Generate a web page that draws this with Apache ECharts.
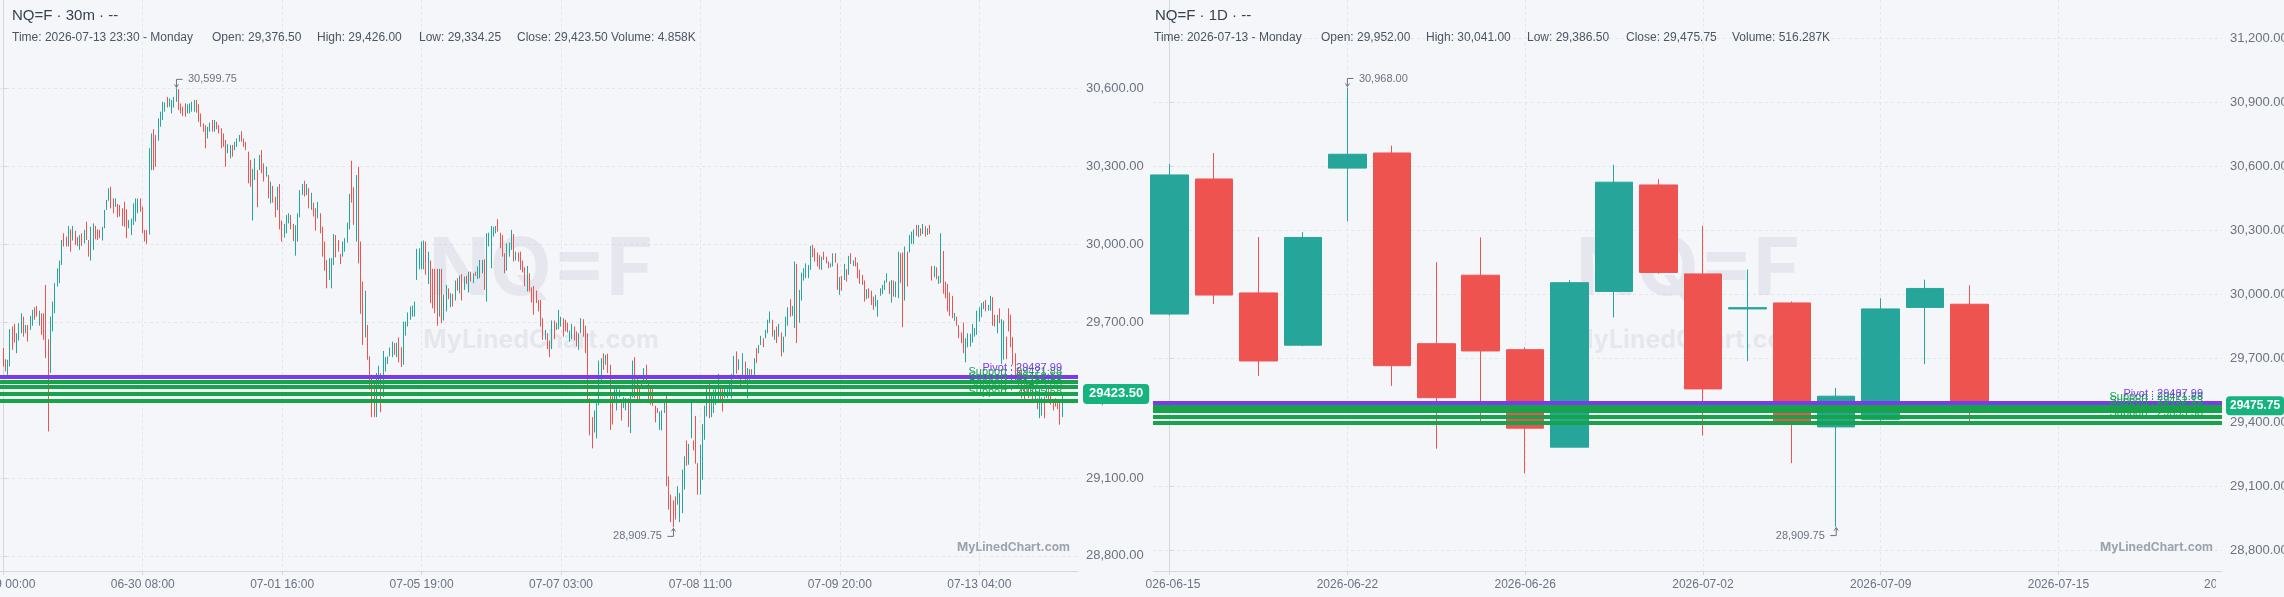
<!DOCTYPE html>
<html>
<head>
<meta charset="utf-8">
<title>NQ=F</title>
<script src="https://cdn.jsdelivr.net/npm/echarts@6.0.0/dist/echarts.min.js"></script>
<style>
  html, body { margin: 0; padding: 0; background: #f5f6fa; }
  #chart { width: 2284px; height: 597px; }
</style>
</head>
<body>
<div id="chart"></div>
<script>
// 30m bars as [open, close, low, high], one array per x-axis label (62 bars each)
const s0629 = [
  [29600,29529,29529,29600],[29557,29510,29510,29557],[29497,29555,29497,29555],[29529,29673,29529,29673],
  [29683,29593,29593,29683],[29693,29621,29621,29693],[29580,29657,29580,29657],[29629,29696,29629,29696],
  [29657,29734,29657,29734],[29721,29644,29644,29721],[29657,29689,29657,29689],[29689,29625,29625,29689],
  [29670,29724,29670,29724],[29686,29747,29686,29747],[29757,29709,29709,29757],[29762,29721,29721,29762],
  [29686,29744,29686,29744],[29734,29651,29651,29734],[29734,29632,29632,29734],[29843,29561,29561,29843],
  [29634,29504,29279,29634],[29504,29721,29504,29721],[29664,29779,29664,29779],[29734,29850,29734,29850],
  [29837,29907,29837,29907],[29850,29937,29850,29937],[29920,30016,29920,30016],[30042,29991,29991,30042],
  [30029,29991,29991,30029],[29991,30070,29991,30070],[30057,29971,29971,30057],[30014,30070,30014,30070],
  [30052,29997,29997,30052],[30027,29993,29993,30027],[29978,30035,29978,30035],[30042,29993,29993,30042],
  [30003,30055,30003,30055],[30087,30016,30016,30087],[30016,29952,29952,30016],[29937,30067,29937,30067],
  [29978,30080,29978,30080],[30070,30019,30019,30070],[30057,30016,30016,30057],[30055,30023,30023,30055],
  [30014,30067,30014,30067],[30061,30132,30061,30132],[30132,30170,30132,30170],[30167,30215,30167,30215],
  [30221,30138,30138,30221],[30176,30119,30119,30176],[30144,30176,30144,30176],[30155,30103,30103,30155],
  [30151,30106,30106,30151],[30138,30070,30070,30138],[30163,30067,30067,30163],[30134,30023,30023,30134],
  [30061,30093,30061,30093],[30035,30099,30035,30099],[30074,30157,30074,30157],[30087,30176,30087,30176],
  [30119,30176,30119,30176],[30176,30125,30125,30176]
];
const s0630 = [
  [30144,30042,30042,30144],[30055,30010,30010,30055],[30055,30001,30001,30055],[30037,30369,30037,30369],
  [30285,30426,30285,30426],[30442,30285,30285,30442],[30420,30298,30298,30420],[30398,30484,30398,30484],
  [30452,30510,30452,30510],[30478,30548,30478,30548],[30510,30546,30510,30546],[30567,30526,30526,30567],
  [30529,30561,30529,30561],[30503,30555,30503,30555],[30526,30567,30526,30567],[30548,30590,30548,30599.75],
  [30597,30516,30516,30597],[30542,30503,30503,30542],[30529,30493,30493,30529],[30542,30491,30491,30542],
  [30503,30538,30503,30538],[30503,30542,30503,30542],[30510,30548,30510,30548],[30510,30555,30510,30555],
  [30555,30506,30506,30555],[30539,30471,30471,30539],[30503,30452,30452,30503],[30465,30433,30433,30465],
  [30458,30369,30369,30458],[30407,30452,30407,30452],[30433,30468,30433,30468],[30478,30433,30433,30478],
  [30433,30478,30433,30478],[30471,30442,30442,30471],[30458,30426,30426,30458],[30446,30369,30369,30446],
  [30426,30375,30375,30426],[30401,30298,30298,30401],[30350,30385,30350,30385],[30330,30382,30330,30382],
  [30382,30337,30337,30382],[30362,30394,30362,30394],[30375,30407,30375,30407],[30394,30420,30394,30420],
  [30435,30394,30394,30435],[30407,30375,30375,30407],[30394,30362,30362,30394],[30356,30234,30234,30356],
  [30324,30221,30221,30324],[30210,30285,30091,30290],[30247,30330,30247,30330],[30285,30142,30142,30285],
  [30285,30343,30285,30343],[30362,30273,30273,30362],[30311,30241,30241,30311],[30260,30298,30260,30298],
  [30266,30176,30176,30266],[30157,30241,30157,30241],[30224,30160,30160,30224],[30183,30103,30103,30183],
  [30132,30221,30132,30221],[30232,30057,30057,30232]
];
const s0701 = [
  [30091,30010,30010,30091],[30025,30078,30025,30078],[30042,30112,30042,30112],[30080,30119,30080,30119],
  [30112,30057,30057,30112],[30078,30012,30012,30078],[29956,30073,29956,30073],[30010,30119,30010,30119],
  [30103,30208,30103,30208],[30189,30232,30189,30232],[30244,30183,30183,30244],[30189,30232,30189,30232],
  [30215,30138,30138,30215],[30132,30198,30132,30198],[30160,30106,30106,30160],[30138,30052,30052,30138],
  [30099,30163,30099,30163],[30119,30042,30042,30119],[30067,29952,29952,30067],[30010,29898,29898,30010],
  [29939,29830,29830,29939],[29862,29946,29862,29946],[29830,29946,29830,29946],[29920,30039,29920,30039],
  [30035,29949,29949,30035],[30016,29971,29971,30016],[29962,29923,29923,29962],[29952,30010,29952,30010],
  [29971,30023,29971,30023],[30006,30083,30006,30083],[30057,30193,30057,30193],[30321,30160,30160,30321],
  [30219,30074,30074,30219],[30010,30266,30010,30266],[30298,29926,29926,30298],[30010,29732,29732,30010],
  [29856,29612,29612,29856],[29641,29821,29641,29821],[29689,29555,29555,29689],[29568,29440,29440,29568],
  [29497,29334,29334,29497],[29465,29334,29334,29465],[29334,29504,29334,29504],[29446,29532,29446,29532],
  [29504,29353,29353,29504],[29411,29589,29411,29589],[29510,29565,29510,29565],[29539,29568,29539,29568],
  [29568,29602,29568,29602],[29565,29625,29565,29625],[29619,29574,29574,29619],[29565,29621,29565,29621],
  [29641,29545,29545,29641],[29603,29527,29527,29603],[29536,29702,29536,29702],[29648,29702,29648,29702],
  [29683,29737,29683,29737],[29709,29760,29709,29760],[29721,29764,29721,29764],[29721,29779,29721,29779],
  [29862,29982,29862,29982],[29903,29984,29903,29984]
];
const s0705 = [
  [29903,30010,29903,30010],[29903,30014,29903,30014],[30010,29882,29882,30010],[29847,29971,29847,29971],
  [29937,29773,29773,29937],[29905,29753,29753,29905],[29905,29734,29734,29905],[29905,29686,29686,29905],
  [29721,29905,29721,29905],[29905,29696,29696,29905],[29706,29805,29706,29805],[29741,29843,29741,29843],
  [29830,29788,29788,29830],[29757,29811,29757,29811],[29809,29760,29760,29809],[29783,29860,29783,29860],
  [29869,29821,29821,29869],[29811,29879,29811,29879],[29885,29783,29783,29885],[29824,29875,29824,29875],
  [29878,29847,29847,29878],[29814,29894,29814,29894],[29894,29856,29856,29894],[29850,29888,29850,29888],
  [29894,29878,29878,29894],[29866,29914,29866,29914],[29869,29939,29869,29939],[29888,29939,29888,29939],
  [29942,29824,29824,29942],[29779,30042,29779,30042],[29991,30044,29991,30044],[29907,30070,29907,30070],
  [30029,30067,30029,30067],[30042,30070,30042,30070],[30096,30048,30048,30096],[30044,29984,29984,30044],
  [30035,29952,29952,30035],[29965,29888,29888,29965],[29898,30003,29898,30003],[29952,30006,29952,30006],
  [29978,30055,29978,30055],[30039,29933,29933,30039],[29937,29971,29937,29971],[29968,29933,29933,29968],
  [29971,29901,29901,29971],[29937,29891,29891,29937],[29911,29839,29839,29911],[29818,29916,29818,29916],
  [29888,29818,29818,29888],[29834,29775,29775,29834],[29839,29728,29728,29839],[29821,29773,29773,29821],
  [29785,29741,29741,29785],[29785,29683,29683,29785],[29715,29632,29632,29715],[29632,29670,29632,29670],
  [29657,29596,29596,29657],[29629,29565,29565,29629],[29596,29706,29596,29706],[29706,29634,29634,29706],
  [29670,29698,29670,29698],[29673,29747,29673,29747]
];
const s0707 = [
  [29683,29721,29683,29721],[29715,29644,29644,29715],[29709,29664,29664,29709],[29698,29660,29660,29698],
  [29625,29667,29625,29667],[29634,29693,29634,29693],[29683,29629,29629,29683],[29664,29606,29606,29664],
  [29593,29657,29593,29657],[29657,29715,29657,29715],[29711,29644,29644,29711],[29686,29580,29580,29686],
  [29657,29395,29395,29657],[29407,29264,29264,29407],[29334,29214,29214,29334],[29275,29360,29275,29360],
  [29252,29388,29252,29388],[29379,29552,29379,29552],[29471,29561,29471,29561],[29580,29516,29516,29580],
  [29536,29574,29536,29574],[29578,29504,29504,29578],[29536,29285,29285,29536],[29414,29306,29306,29414],
  [29388,29442,29388,29442],[29360,29446,29360,29446],[29420,29430,29410,29440],[29404,29321,29321,29404],
  [29369,29411,29369,29411],[29360,29407,29360,29407],[29407,29296,29296,29407],[29273,29416,29273,29416],
  [29410,29552,29410,29552],[29565,29407,29407,29565],[29480,29401,29401,29480],[29452,29404,29404,29452],
  [29478,29446,29446,29478],[29465,29523,29465,29523],[29536,29465,29465,29536],[29465,29401,29401,29465],
  [29450,29382,29382,29450],[29442,29378,29378,29442],[29378,29314,29314,29378],[29369,29350,29350,29369],
  [29285,29356,29285,29356],[29283,29360,29283,29360],[29350,29395,29350,29395],[29416,29068,29068,29416],
  [29106,28978,28978,29106],[29036,28960,28930,29036],[29014,28950,28909.75,29014],[29029,28955,28940,29029],
  [28997,29068,28997,29068],[28960,29042,28930,29042],[28965,29132,28965,29132],[29055,29183,29055,29183],
  [29244,29147,29147,29244],[29151,29231,29151,29231],[29253,29398,29253,29398],[29244,29206,29206,29244],
  [29339,29155,29155,29339],[29157,29036,29036,29157]
];
const s0708 = [
  [29036,29228,29036,29228],[29093,29308,29093,29308],[29247,29378,29247,29378],[29337,29446,29337,29446],
  [29465,29330,29330,29465],[29334,29420,29334,29420],[29350,29440,29350,29440],[29382,29446,29382,29446],
  [29388,29501,29388,29501],[29459,29395,29395,29459],[29442,29356,29356,29442],[29407,29446,29407,29446],
  [29407,29442,29407,29442],[29420,29465,29420,29465],[29407,29501,29407,29501],[29491,29570,29491,29570],
  [29587,29501,29501,29587],[29516,29557,29516,29557],[29497,29446,29446,29497],[29491,29580,29491,29580],
  [29548,29465,29465,29548],[29407,29523,29407,29523],[29478,29519,29478,29519],[29519,29497,29497,29519],
  [29488,29561,29488,29561],[29600,29542,29542,29600],[29580,29612,29580,29612],[29612,29647,29612,29647],
  [29638,29603,29603,29638],[29638,29670,29638,29670],[29657,29709,29657,29709],[29696,29741,29696,29741],
  [29709,29644,29644,29709],[29632,29670,29632,29670],[29683,29619,29619,29683],[29644,29693,29644,29693],
  [29660,29568,29568,29660],[29583,29644,29583,29644],[29644,29721,29644,29721],[29686,29757,29686,29757],
  [29788,29721,29721,29788],[29724,29762,29724,29762],[29677,29933,29677,29933],[29924,29619,29619,29924],
  [29698,29824,29698,29824],[29783,29890,29783,29890],[29860,29907,29860,29907],[29869,29926,29869,29926],
  [29869,29920,29869,29920],[29901,29993,29901,29993],[29997,29950,29950,29997],[29984,29933,29933,29984],
  [29968,29914,29914,29968],[29958,29903,29903,29958],[29901,29952,29901,29952],[29971,29939,29939,29971],
  [29952,29926,29926,29952],[29933,29907,29907,29933],[29911,29926,29911,29926],[29914,29965,29914,29965],
  [29965,29929,29929,29965],[29926,29824,29824,29926]
];
const s0709 = [
  [29805,29873,29805,29873],[29878,29821,29821,29878],[29862,29924,29862,29924],[29904,29856,29856,29904],
  [29882,29955,29882,29955],[29965,29924,29924,29965],[29916,29937,29916,29937],[29950,29914,29914,29950],
  [29929,29869,29869,29929],[29901,29847,29847,29901],[29882,29843,29843,29882],[29860,29779,29779,29860],
  [29788,29827,29788,29827],[29830,29792,29792,29830],[29821,29766,29766,29821],[29798,29747,29747,29798],
  [29760,29805,29760,29805],[29721,29785,29721,29785],[29801,29830,29801,29830],[29808,29843,29808,29843],
  [29824,29860,29824,29860],[29852,29888,29852,29888],[29856,29808,29808,29856],[29775,29862,29775,29862],
  [29860,29798,29798,29860],[29796,29856,29796,29856],[29792,29971,29792,29971],[29965,29850,29850,29965],
  [29968,29680,29680,29968],[29783,29991,29783,29991],[29971,29837,29837,29971],[29968,30035,29968,30035],
  [30001,30048,30001,30048],[30001,30057,30001,30057],[30074,30032,30032,30074],[30027,30074,30027,30074],
  [30061,30032,30032,30061],[30039,30078,30039,30078],[30070,30029,30029,30070],[30035,30061,30035,30061],
  [30074,30039,30039,30074],[29916,29860,29860,29916],[29873,29916,29873,29916],[29911,29865,29865,29911],
  [29847,29878,29847,29878],[29850,30042,29850,30042],[29974,29809,29809,29974],[29856,29792,29792,29856],
  [29847,29741,29741,29847],[29814,29724,29724,29814],[29801,29715,29715,29801],[29712,29730,29705,29735],
  [29721,29686,29686,29721],[29689,29638,29638,29689],[29660,29619,29619,29660],[29698,29580,29580,29698],
  [29545,29638,29545,29638],[29603,29657,29603,29657],[29606,29655,29606,29655],[29621,29693,29621,29693],
  [29644,29677,29644,29677],[29651,29744,29651,29744]
];
const s0713 = [
  [29702,29757,29702,29757],[29719,29773,29719,29773],[29750,29779,29750,29779],[29785,29741,29741,29785],
  [29744,29766,29744,29766],[29744,29801,29744,29801],[29796,29686,29686,29796],[29728,29683,29683,29728],
  [29657,29728,29657,29728],[29753,29696,29696,29753],[29539,29711,29539,29711],[29555,29706,29555,29706],
  [29644,29557,29557,29644],[29753,29664,29664,29753],[29728,29603,29603,29728],[29642,29536,29536,29642],
  [29580,29471,29471,29580],[29523,29484,29484,29523],[29510,29478,29478,29510],[29516,29407,29407,29516],
  [29465,29404,29404,29465],[29440,29471,29440,29471],[29452,29407,29407,29452],[29414,29465,29414,29465],
  [29440,29388,29388,29440],[29401,29452,29401,29452],[29407,29365,29365,29407],[29330,29420,29330,29420],
  [29350,29400,29340,29410],[29414,29330,29330,29414],[29407,29446,29407,29446],[29452,29401,29401,29452],
  [29433,29382,29382,29433],[29390,29370,29360,29400],[29407,29375,29375,29407],[29401,29365,29365,29401],
  [29388,29305,29305,29388],[29376.5,29423.5,29334.25,29426]
];
const intradayTicks = ['06-29 00:00', '06-30 08:00', '07-01 16:00', '07-05 19:00',
  '07-07 03:00', '07-08 11:00', '07-09 20:00', '07-13 04:00'];
const barsPerTick = 62;

// daily bars [open, close, low, high]
const dailyDates = ['2026-06-15', '2026-06-16', '2026-06-17', '2026-06-18', '2026-06-22', '2026-06-23',
  '2026-06-24', '2026-06-25', '2026-06-26', '2026-06-29', '2026-06-30', '2026-07-01', '2026-07-02',
  '2026-07-06', '2026-07-07', '2026-07-08', '2026-07-09', '2026-07-10', '2026-07-13',
  '2026-07-14', '2026-07-15', '2026-07-16', '2026-07-17', '2026-07-20', '2026-07-21'];
const dailyBars = [
  [29906, 30558, 29900, 30609], [30539, 29995, 29953, 30661], [30005, 29686, 29616, 30267],
  [29760, 30265, 29755, 30290], [30590, 30655, 30340, 30968], [30661, 29664, 29569, 30695],
  [29767, 29514, 29275, 30149], [30088, 29733, 29398, 30265], [29739, 29371, 29159, 29750],
  [29282, 30053, 29282, 30065], [30012, 30524, 29890, 30606], [30511, 30101, 30095, 30538],
  [30094, 29555, 29336, 30320], [29930, 29936, 29685, 30115], [29958, 29398, 29207, 29965],
  [29377, 29521, 28909.75, 29560], [29412, 29930, 29400, 29980], [29937, 30026, 29671, 30067],
  [29952, 29475.75, 29386.5, 30041]
];
const dailyTickEvery = 4;

const pivot = 29487.99;
const supports = [29471.88, 29452.13, 29425.00, 29395.58];
const intradayPriceTicks = [28800, 29100, 29400, 29700, 30000, 30300, 30600];
const dailyPriceTicks = [28800, 29100, 29400, 29700, 30000, 30300, 30600, 30900, 31200];

const intradayHeader = [['Time: 2026-07-13 23:30 - Monday', 12], ['Open: 29,376.50', 212], ['High: 29,426.00', 317],
  ['Low: 29,334.25', 419], ['Close: 29,423.50', 517], ['Volume: 4.858K', 611]];
const dailyHeader = [['Time: 2026-07-13 - Monday', 1154], ['Open: 29,952.00', 1321], ['High: 30,041.00', 1426],
  ['Low: 29,386.50', 1527], ['Close: 29,475.75', 1626], ['Volume: 516.287K', 1732]];

const UP = '#26a69a';
const DOWN = '#ef5350';
const PIVOT_COLOR = '#7c3aed';
const SUPPORT_COLOR = '#16a34a';
const PRICE_BOX = '#17b37f';
const GRID_LINE = '#e3e6ec';
const AXIS_LINE = '#d3d7de';
const TEXT = '#6b7280';
const BG = '#f5f6fa';
const FONT = "'Liberation Sans', Arial, sans-serif";

const intradayBars = [].concat(s0629, s0630, s0701, s0705, s0707, s0708, s0709, s0713);

const fmt = v => v.toLocaleString('en-US', { minimumFractionDigits: 2, maximumFractionDigits: 2 });

function extremes(bars) {
  let hi = 0, lo = 0;
  bars.forEach((b, i) => {
    if (b[3] > bars[hi][3]) hi = i;
    if (b[2] < bars[lo][2]) lo = i;
  });
  return { hi, lo };
}

// pivot / support lines plus the last-price tag on the axis
function levelLines(lastClose, gap, tag) {
  const lines = supports.map(v => ({
    yAxis: v,
    lineStyle: { color: SUPPORT_COLOR, width: 4, type: 'solid', opacity: 1 },
    label: { show: true, position: 'insideEndTop', distance: [gap, 4], formatter: 'Support : ' + v.toFixed(2),
      color: SUPPORT_COLOR, fontSize: 11, fontFamily: FONT }
  }));
  lines.push({
    yAxis: pivot,
    lineStyle: { color: PIVOT_COLOR, width: 4, type: 'solid', opacity: 1 },
    label: { show: true, position: 'insideEndTop', distance: [gap, 4], formatter: 'Pivot : ' + pivot.toFixed(2),
      color: PIVOT_COLOR, fontSize: 11, fontFamily: FONT }
  });
  lines.push({
    yAxis: lastClose,
    lineStyle: { color: 'rgba(0,0,0,0)', width: 1, type: 'solid' },
    label: { show: true, position: 'end', distance: tag.distance, formatter: lastClose.toFixed(2), color: '#fff',
      backgroundColor: PRICE_BOX, borderRadius: 4, padding: tag.padding, fontSize: tag.fontSize, fontWeight: 'bold',
      fontFamily: FONT }
  });
  return { silent: true, symbol: 'none', animation: false, data: lines };
}

function extremeMarks(bars) {
  const e = extremes(bars);
  return {
    silent: true,
    animation: false,
    itemStyle: { color: 'none', borderColor: TEXT, borderWidth: 1 },
    label: { show: true, color: TEXT, fontSize: 11, fontFamily: FONT },
    data: [
      { coord: [e.hi, bars[e.hi][3]], symbol: 'path://M0,10 L0,2 L6,2 M-2,7 L0,10 L2,7', symbolSize: [8, 8],
        symbolOffset: [2, -5], label: { position: 'right', distance: 3, offset: [0, -4], formatter: fmt(bars[e.hi][3]) } },
      { coord: [e.lo, bars[e.lo][2]], symbol: 'path://M0,0 L0,8 L-6,8 M-2,3 L0,0 L2,3', symbolSize: [8, 8],
        symbolOffset: [-2, 5], label: { position: 'left', distance: 3, offset: [0, 4], formatter: fmt(bars[e.lo][2]) } }
    ]
  };
}

function candleSeries(bars, axisIndex, width, gap, tag) {
  return {
    type: 'candlestick',
    xAxisIndex: axisIndex,
    yAxisIndex: axisIndex,
    barWidth: width,
    data: bars.map((b, i) => [i, b[0], b[1], b[2], b[3]]),
    itemStyle: { color: UP, color0: DOWN, borderColor: UP, borderColor0: DOWN, borderWidth: 1 },
    markLine: levelLines(bars[bars.length - 1][1], gap, tag),
    markPoint: extremeMarks(bars)
  };
}

function xAxis(gridIndex, min, max, ticks, labelOf) {
  return {
    type: 'value', gridIndex, min, max,
    axisLine: { lineStyle: { color: AXIS_LINE } },
    axisTick: { show: true, length: 4, lineStyle: { color: AXIS_LINE }, customValues: ticks },
    axisLabel: { customValues: ticks, formatter: labelOf, color: TEXT, fontSize: 12, fontFamily: FONT, margin: 8,
      showMinLabel: true, showMaxLabel: true },
    splitLine: { show: true, lineStyle: { color: GRID_LINE, type: [3, 3] } }
  };
}

function yAxis(gridIndex, min, max, ticks) {
  return {
    type: 'value', gridIndex, min, max, position: 'right', scale: true,
    axisLine: { show: true, lineStyle: { color: AXIS_LINE } },
    axisTick: { show: true, length: 4, lineStyle: { color: AXIS_LINE }, customValues: ticks },
    axisLabel: { customValues: ticks, formatter: fmt, color: TEXT, fontSize: 13, fontFamily: FONT, margin: 8 },
    splitLine: { show: true, lineStyle: { color: GRID_LINE, type: [3, 3] } }
  };
}

function text(x, y, str, font, fill, align, z) {
  return { type: 'text', x, y, silent: true, z: z == null ? 20 : z,
    style: { text: str, font, fill, align: align || 'left', verticalAlign: 'middle',
      textAlign: align || 'left', textVerticalAlign: 'middle' } };
}

const intradayTickValues = intradayTicks.map((t, k) => k * barsPerTick);
const dailyTickValues = [];
for (let i = 0; i <= dailyBars.length + 1; i += dailyTickEvery) dailyTickValues.push(i);

const mark = 'rgba(190, 194, 210, 0.28)';
const graphic = [
  text(12, 16, 'NQ=F · 30m · --', '15px ' + FONT, '#374151'),
  text(1155, 16, 'NQ=F · 1D · --', '15px ' + FONT, '#374151'),
  ...intradayHeader.map(h => text(h[1], 38, h[0], '12px ' + FONT, '#4b5563')),
  ...dailyHeader.map(h => text(h[1], 38, h[0], '12px ' + FONT, '#4b5563')),
  text(541, 271, 'NQ=F', 'bold 80px Inter', mark, 'center', 1),
  text(541, 340, 'MyLinedChart.com', 'bold 25px Inter', mark, 'center', 1),
  text(1688, 271, 'NQ=F', 'bold 80px Inter', mark, 'center', 1),
  text(1688, 340, 'MyLinedChart.com', 'bold 25px Inter', mark, 'center', 1),
  text(1070, 547, 'MyLinedChart.com', 'bold 12px Inter', '#9ca3af', 'right'),
  text(2213, 547, 'MyLinedChart.com', 'bold 12px Inter', '#9ca3af', 'right'),
  { type: 'rect', silent: true, z: 30, shape: { x: 1120, y: 575, width: 26, height: 22 }, style: { fill: BG } },
  text(2204, 585, dailyDates[24], '12px ' + FONT, TEXT),
  { type: 'rect', silent: true, z: 30, shape: { x: 2216, y: 575, width: 68, height: 22 }, style: { fill: BG } }
];

const chart = echarts.init(document.getElementById('chart'));
chart.setOption({
  animation: false,
  backgroundColor: BG,
  textStyle: { fontFamily: FONT },
  grid: [
    { left: 0, top: 0, width: 1078, height: 571, outerBoundsMode: 'none', containLabel: false },
    { left: 1153, top: 0, width: 1069, height: 571, outerBoundsMode: 'none', containLabel: false }
  ],
  xAxis: [
    xAxis(0, -1.47, 477.9, intradayTickValues, v => intradayTicks[Math.round(v / barsPerTick)] || ''),
    xAxis(1, -0.374, 23.68, dailyTickValues, v => dailyDates[Math.round(v)] || '')
  ],
  yAxis: [
    yAxis(0, 28741.8, 30939.9, intradayPriceTicks),
    yAxis(1, 28701.6, 31378, dailyPriceTicks)
  ],
  series: [
    candleSeries(intradayBars, 0, 1, 16, { distance: 5, padding: [4, 6, 3, 6], fontSize: 13 }),
    candleSeries(dailyBars, 1, 38, 19, { distance: 4, padding: [4, 4, 3, 4], fontSize: 12 })
  ],
  graphic
});
</script>
</body>
</html>
